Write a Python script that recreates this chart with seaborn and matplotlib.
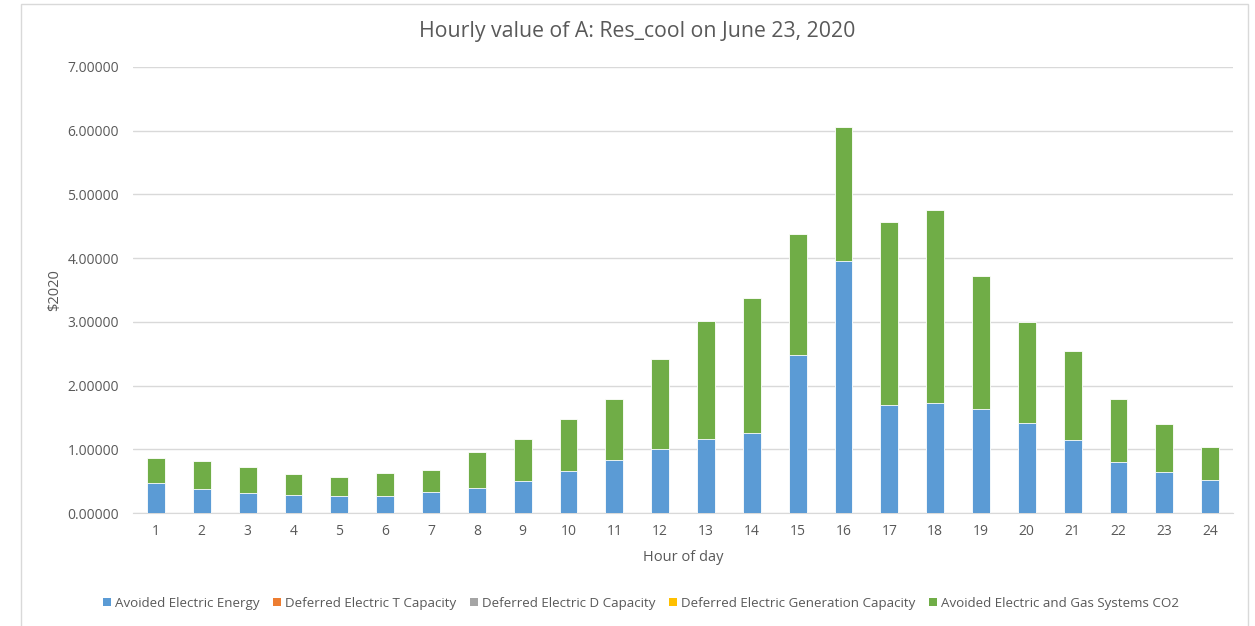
import numpy as np
import pandas as pd
import seaborn as sns
import matplotlib.pyplot as plt
from matplotlib.patches import Patch, Rectangle

hours = list(range(1, 25))
energy = [0.474, 0.384, 0.316, 0.289, 0.263, 0.263, 0.332, 0.400, 0.503, 0.654, 0.838, 1.010,
          1.168, 1.251, 2.487, 3.948, 1.690, 1.724, 1.625, 1.415, 1.143, 0.807, 0.645, 0.514]
t_capacity = [0.0] * 24
d_capacity = [0.0] * 24
gen_capacity = [0.0] * 24
total = [0.868, 0.816, 0.721, 0.611, 0.558, 0.621, 0.679, 0.963, 1.157, 1.476, 1.796, 2.424,
         3.010, 3.372, 4.372, 6.052, 4.571, 4.748, 3.716, 2.993, 2.542, 1.792, 1.394, 1.032]
co2 = [round(t - e, 3) for t, e in zip(total, energy)]

series_names = ["Avoided Electric Energy", "Deferred Electric T Capacity", "Deferred Electric D Capacity",
                "Deferred Electric Generation Capacity", "Avoided Electric and Gas Systems CO2"]
series_colors = ["#5b9bd5", "#ed7d31", "#a5a5a5", "#ffc000", "#70ad47"]

df = pd.DataFrame({"hour": hours, "energy": energy, "t": t_capacity, "d": d_capacity,
                   "gen": gen_capacity, "co2": co2})
df["top"] = df[["energy", "t", "d", "gen", "co2"]].sum(axis=1)

sns.set_style("white")
plt.rcParams["font.family"] = ["Open Sans", "DejaVu Sans"]
text_color = "#595959"

fig = plt.figure(figsize=(12.55, 6.26), dpi=100)
ax = fig.add_axes([0.106, 0.1805, 0.8765, 0.7125])

# stacked: draw cumulative totals from top down so lower segments paint over
sns.barplot(data=df, x="hour", y="top", color=series_colors[4], width=0.39,
            saturation=1, ax=ax, edgecolor="white", linewidth=0.6, zorder=3)
sns.barplot(data=df, x="hour", y="energy", color=series_colors[0], width=0.39,
            saturation=1, ax=ax, edgecolor="white", linewidth=0.6, zorder=3)

ax.set_ylim(0, 7)
ax.set_yticks(np.arange(0, 8, 1))
ax.set_yticklabels([f"{v:.5f}" for v in np.arange(0, 8, 1)])
ax.yaxis.grid(True, color="#d9d9d9", linewidth=1)
ax.set_axisbelow(True)
for s in ["top", "right", "left"]:
    ax.spines[s].set_visible(False)
ax.spines["bottom"].set_color("#d9d9d9")
ax.tick_params(axis="both", length=0, colors=text_color, labelsize=10)
ax.tick_params(axis="y", pad=10)
ax.tick_params(axis="x", pad=8)

ax.set_xlabel("Hour of day", fontsize=10.5, color=text_color, labelpad=8)
ax.set_ylabel("$2020", fontsize=10.5, color=text_color, labelpad=4)
fig.text(637 / 1255, 1 - 32 / 626, "Hourly value of A: Res_cool on June 23, 2020",
         fontsize=15.3, color=text_color, ha="center", va="center")

handles = [Patch(facecolor=c, edgecolor="none") for c in series_colors]
fig.legend(handles, series_names, loc="center", bbox_to_anchor=(641 / 1255, 1 - 603 / 626), ncol=5,
           frameon=False, fontsize=9.6, handlelength=0.6, handleheight=0.6,
           handletextpad=0.3, columnspacing=1.0, labelcolor=text_color)

# chart area border
fig.patches.append(Rectangle((21 / 1255, -0.01), (1248 - 21) / 1255, 1 - 4 / 626 + 0.01,
                             transform=fig.transFigure, fill=False,
                             edgecolor="#d9d9d9", linewidth=1))

fig.savefig("out.png", dpi=100)
